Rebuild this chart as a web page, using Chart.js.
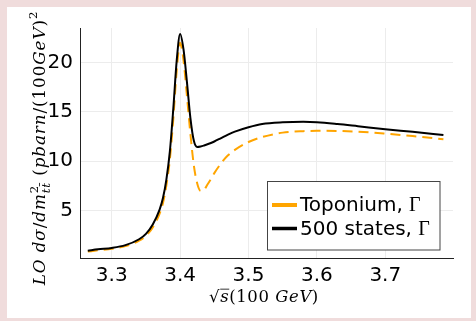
<!DOCTYPE html>
<html>
<head>
<meta charset="utf-8">
<script src="https://cdn.jsdelivr.net/npm/chart.js@4"></script>
<style>
html, body { margin: 0; padding: 0; background: #f0dcdc; }
canvas { display: block; }
</style>
</head>
<body>
<canvas id="chart" width="476" height="321"></canvas>
<script>
// sqrt(s) in units of 100 GeV
const sqrtS = [3.265, 3.28, 3.30, 3.32, 3.34, 3.35, 3.36, 3.37, 3.375, 3.38, 3.385, 3.39, 3.395, 3.40,
    3.405, 3.41, 3.415, 3.42, 3.425, 3.43, 3.435, 3.44, 3.445, 3.45, 3.46, 3.47, 3.48, 3.50, 3.52,
    3.55, 3.58, 3.60, 3.63, 3.66, 3.70, 3.74, 3.785];

const toponium = [0.85, 0.98, 1.13, 1.4, 1.95, 2.45, 3.3, 4.7, 5.8, 7.6, 10.2, 14.3, 19.2, 22.0,
    20.2, 16.6, 12.8, 9.6, 7.75, 7.0, 7.1, 7.65, 8.2, 8.8, 9.8, 10.6, 11.15, 11.95, 12.45,
    12.9, 13.05, 13.08, 13.07, 13.0, 12.8, 12.55, 12.23];

const states500 = [0.94, 1.08, 1.22, 1.5, 2.1, 2.65, 3.6, 5.1, 6.3, 8.2, 11.0, 15.3, 20.2, 22.9,
    21.3, 18.0, 14.4, 12.1, 11.45, 11.5, 11.6, 11.72, 11.85, 12.0, 12.35, 12.7, 13.0, 13.45, 13.78,
    13.95, 14.0, 13.95, 13.77, 13.55, 13.25, 12.98, 12.66];

const xTicks = [3.3, 3.4, 3.5, 3.6, 3.7];
const yTicks = [5, 10, 15, 20];
const seriesLabels = ['Toponium, ', '500 states, '];

const SERIF = '"DejaVu Serif", "Liberation Serif", serif';

// draws a run of text pieces (italic / roman / sup / sub), scaled to fit a given length
function drawRich(ctx, parts, length, cx, baseline, spacing) {
    ctx.letterSpacing = spacing + 'px';
    function fontFor(p, size) {
        return (p.i ? 'italic ' : '') + (size * (p.s || 1)) + 'px ' + SERIF;
    }
    function measure(size) {
        let total = 0;
        parts.forEach(p => {
            ctx.font = fontFor(p, size);
            p.w = ctx.measureText(p.t).width;
            if (p.adv !== false) total += p.w;
        });
        return total;
    }
    const size = 16 * length / measure(16);
    const total = measure(size);
    let x = cx - total / 2;
    ctx.textBaseline = 'alphabetic';
    ctx.textAlign = 'left';
    parts.forEach(p => {
        ctx.font = fontFor(p, size);
        ctx.fillText(p.t, x, baseline + (p.dy || 0) * size);
        p.x = x;
        if (p.adv !== false) x += p.w;
    });
    ctx.letterSpacing = '0px';
    return size;
}

const backdrop = {
    id: 'backdrop',
    beforeDraw(chart) {
        const ctx = chart.ctx;
        ctx.save();
        ctx.fillStyle = '#ffffff';
        ctx.fillRect(7, 7, 464, 311);
        ctx.restore();
    }
};

const decorations = {
    id: 'decorations',
    afterDraw(chart) {
        const ctx = chart.ctx;
        ctx.save();
        ctx.fillStyle = '#000';

        // y title, rotated
        ctx.save();
        ctx.translate(45, 148);
        ctx.rotate(-Math.PI / 2);
        drawRich(ctx, [
            {t: 'LO ', i: true},
            {t: 'd\u03C3', i: true},
            {t: '/'},
            {t: 'dm', i: true},
            {t: '2', s: 0.7, dy: -0.42, adv: false},
            {t: 'tt\u0304', i: true, s: 0.7, dy: 0.3},
            {t: ' ('},
            {t: 'pbarn', i: true},
            {t: '/(100'},
            {t: 'GeV', i: true},
            {t: ')'},
            {t: '2', s: 0.7, dy: -0.45}
        ], 276, 0, 0, 0.9);
        ctx.restore();

        // x title
        const xparts = [
            {t: '\u221A'},
            {t: 's', i: true},
            {t: '(100 '},
            {t: 'GeV', i: true},
            {t: ')'}
        ];
        const xs = drawRich(ctx, xparts, 110, 264, 302, 0.6);
        ctx.strokeStyle = '#000';
        ctx.lineWidth = 0.8;
        ctx.beginPath();
        ctx.moveTo(xparts[1].x, 302 - xs * 0.78);
        ctx.lineTo(xparts[1].x + xparts[1].w, 302 - xs * 0.78);
        ctx.stroke();

        // legend
        const lx = 267.5, ly = 181.5, lw = 172.5, lh = 68.5;
        ctx.fillStyle = '#ffffff';
        ctx.fillRect(lx, ly, lw, lh);
        ctx.strokeStyle = '#444';
        ctx.lineWidth = 1;
        ctx.strokeRect(lx, ly, lw, lh);
        const rows = [205, 228.5];
        chart.data.datasets.forEach((ds, i) => {
            ctx.strokeStyle = ds.borderColor;
            ctx.lineWidth = i === 0 ? 4 : 3.5;
            ctx.beginPath();
            ctx.moveTo(272, rows[i]);
            ctx.lineTo(297, rows[i]);
            ctx.stroke();
            ctx.fillStyle = '#000';
            ctx.textBaseline = 'middle';
            ctx.font = '20px "DejaVu Sans"';
            ctx.fillText(ds.label, 300, rows[i] + 1);
            const w = ctx.measureText(ds.label).width;
            ctx.font = '20px "Liberation Serif"';
            ctx.fillText('\u0393', 300 + w, rows[i] + 1);
        });
        ctx.restore();
    }
};

new Chart(document.getElementById('chart'), {
    type: 'line',
    data: {
        datasets: [{
            label: seriesLabels[0],
            data: sqrtS.map((x, i) => ({x: x, y: toponium[i]})),
            borderColor: '#ffa500',
            borderWidth: 2,
            borderDash: [10, 6],
            pointRadius: 0,
            cubicInterpolationMode: 'monotone',
            order: 1
        }, {
            label: seriesLabels[1],
            data: sqrtS.map((x, i) => ({x: x, y: states500[i]})),
            borderColor: '#000000',
            borderWidth: 2,
            pointRadius: 0,
            cubicInterpolationMode: 'monotone',
            order: 0
        }]
    },
    options: {
        responsive: false,
        animation: false,
        layout: { padding: { left: 0, top: 28, right: 23, bottom: 0 } },
        plugins: { legend: { display: false }, tooltip: { enabled: false } },
        scales: {
            x: {
                type: 'linear',
                min: 3.2536,
                max: 3.799,
                afterBuildTicks: s => { s.ticks = xTicks.map(v => ({value: v})); },
                afterFit: s => { s.height = 63; },
                grid: { color: '#ececec', drawTicks: false },
                border: { color: '#222', width: 1 },
                ticks: {
                    padding: 6,
                    color: '#000',
                    font: { family: 'DejaVu Sans', size: 20 },
                    callback: v => v.toFixed(1)
                }
            },
            y: {
                min: 0.2,
                max: 23.5,
                afterBuildTicks: s => { s.ticks = yTicks.map(v => ({value: v})); },
                afterFit: s => { s.width = 80; },
                grid: { color: '#ececec', drawTicks: false },
                border: { color: '#222', width: 1 },
                ticks: {
                    padding: 7,
                    color: '#000',
                    font: { family: 'DejaVu Sans', size: 20 }
                }
            }
        }
    },
    plugins: [backdrop, decorations]
});
</script>
</body>
</html>
